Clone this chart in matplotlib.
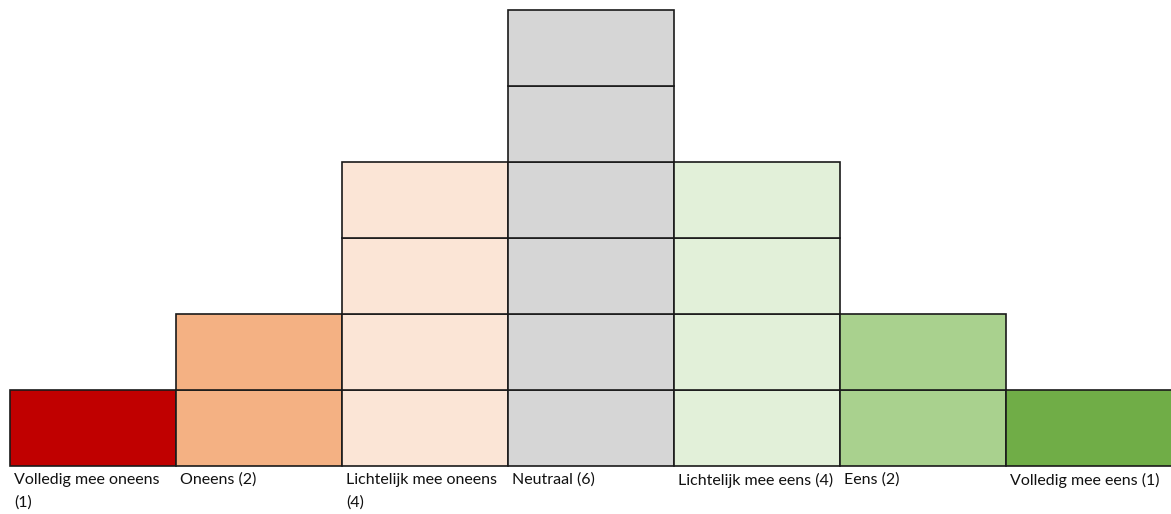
import matplotlib
matplotlib.use('Agg')
import matplotlib.pyplot as plt

# Q-sort verdeling: aantal vakjes per kolom
labels = ['Volledig mee oneens\n(1)', 'Oneens (2)', 'Lichtelijk mee oneens\n(4)',
          'Neutraal (6)', 'Lichtelijk mee eens (4)', 'Eens (2)', 'Volledig mee eens (1)']
counts = [1, 2, 4, 6, 4, 2, 1]
colors = ['#C00000', '#F4B183', '#FBE5D6', '#D6D6D6', '#E2F0D9', '#A9D18E', '#70AD47']

W, H = 1171, 514
fig = plt.figure(figsize=(W / 100, H / 100), dpi=100)
ax = fig.add_axes([10 / W, 48 / H, 7 * 166 / W, 6 * 76 / H])
ax.set_xlim(0, 7)
ax.set_ylim(0, 6)
ax.axis('off')

for i, (n, c) in enumerate(zip(counts, colors)):
    for row in range(n):
        ax.bar(i, 1, bottom=row, width=1, align='edge', color=c,
               edgecolor='#1a1a1a', linewidth=1.2, clip_on=False)
    ax.text(i + 0.025, -0.09, labels[i], ha='left', va='top', fontsize=11.5,
            family='Lato', color='#111111', linespacing=1.75, clip_on=False)

fig.savefig('out.png', dpi=100, facecolor='white')
